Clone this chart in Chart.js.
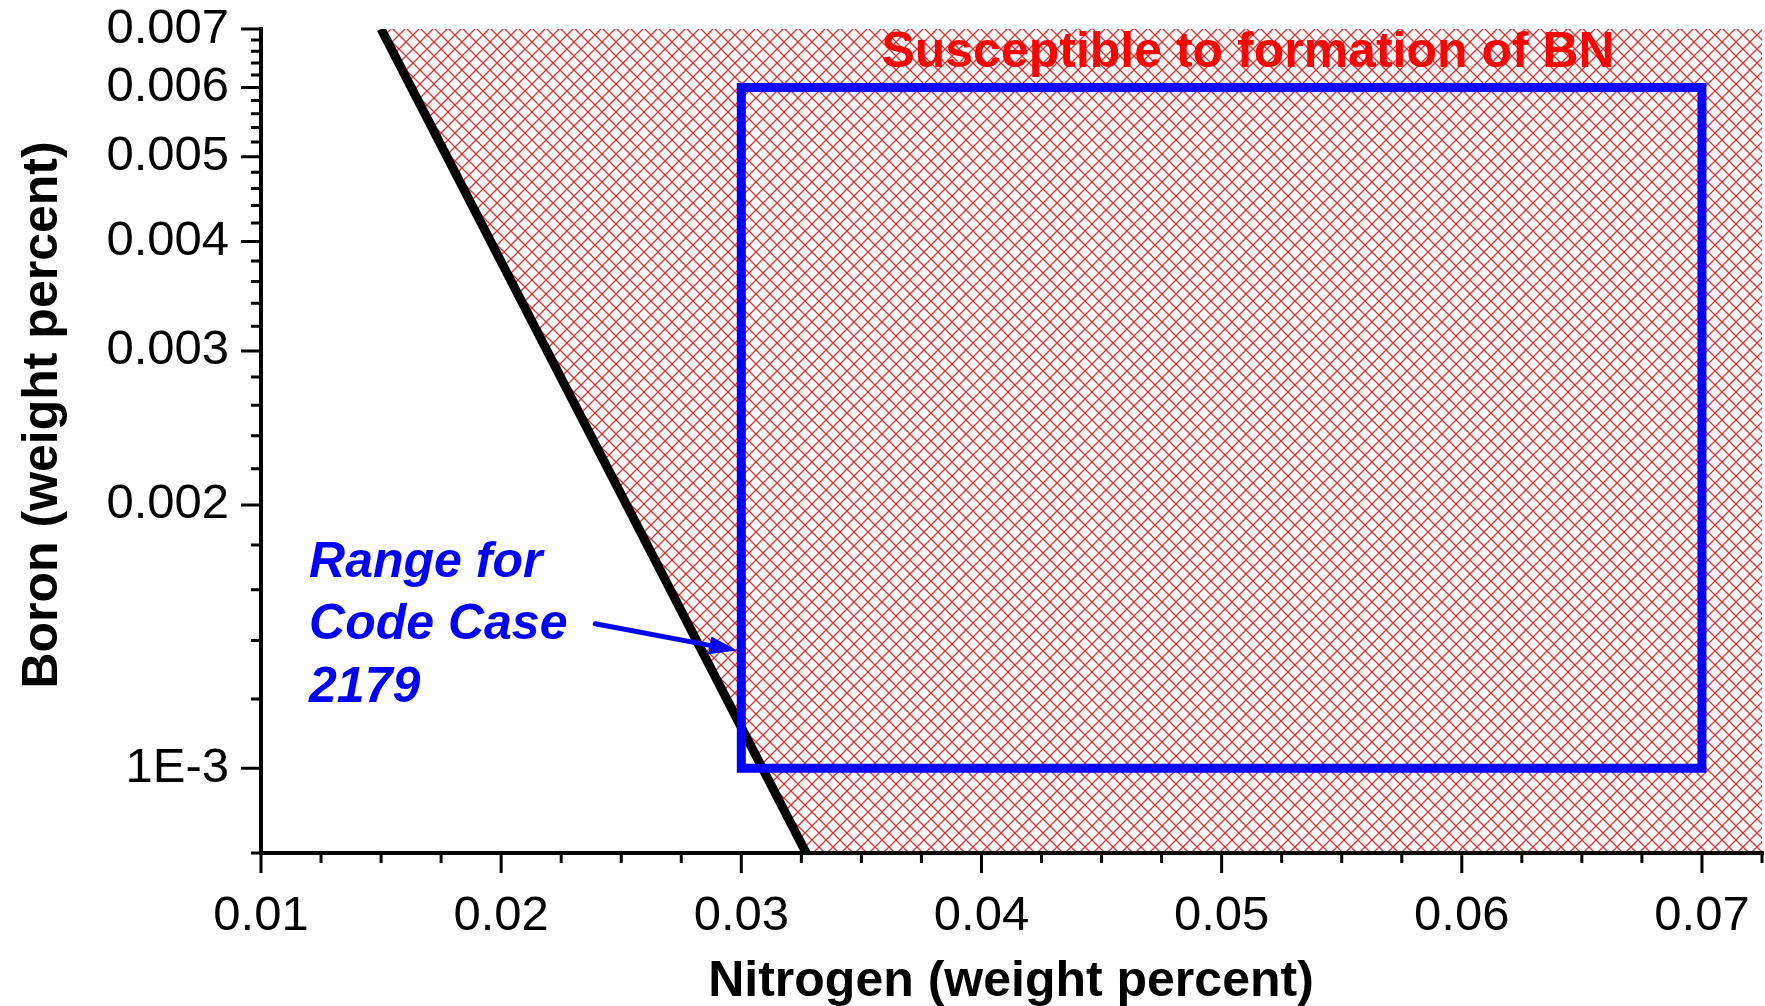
<!DOCTYPE html>
<html>
<head>
<meta charset="utf-8">
<title>Boron vs Nitrogen</title>
<script src="https://cdn.jsdelivr.net/npm/chart.js@4.4.0/dist/chart.umd.min.js"></script>
<style>
  html, body { margin: 0; padding: 0; background: #fff; }
  #wrap { width: 1765px; height: 1006px; position: relative; }
</style>
</head>
<body>
<div id="wrap"><canvas id="bnChart"></canvas></div>
<script>
// --------------------------
// Data
// --------------------------

// Boundary line: left of it is safe, right of it BN can form
const boundaryN = [0.0150, 0.0327];
const boundaryB = [0.007, 0.0008];

// Hatched BN region follows the boundary, then runs along the bottom to the right edge
const hatchN = [0.0150, 0.0327, 0.0725];
const hatchB = [0.007, 0.0008, 0.0008];

// Code Case 2179 composition window (closed outline)
const caseN = [0.03, 0.03, 0.07, 0.07, 0.03];
const caseB = [0.001, 0.006, 0.006, 0.001, 0.001];

// Arrow pointing from the label to the window
const arrowFrom = [0.02392, 0.001463];
const arrowTo = [0.02983, 0.001363];

// Axis ticks
const nTicks = [0.01, 0.02, 0.03, 0.04, 0.05, 0.06, 0.07];
const nTickLabels = ["0.01", "0.02", "0.03", "0.04", "0.05", "0.06", "0.07"];
const bTicks = [0.001, 0.002, 0.003, 0.004, 0.005, 0.006, 0.007];
const bTickLabels = ["1E-3", "0.002", "0.003", "0.004", "0.005", "0.006", "0.007"];

const xTitle = "Nitrogen (weight percent)";
const yTitle = "Boron (weight percent)";

const nMin = 0.01, nMax = 0.0725;
const bMin = 0.0008, bMax = 0.007;

// minor ticks: every 0.0025 on N, every 0.0002 on B
const nMinor = [];
for (let i = 0; i <= 25; i++) {
  const v = +(nMin + i * 0.0025).toFixed(5);
  if (!nTicks.includes(v)) nMinor.push(v);
}
const bMinor = [];
for (let i = 0; i <= 31; i++) {
  const v = +(bMin + i * 0.0002).toFixed(5);
  if (!bTicks.includes(v)) bMinor.push(v);
}

const FONT = "Arial, 'Liberation Sans', Helvetica, sans-serif";

// --------------------------
// Hatch pattern
// --------------------------
function makeHatch() {
  const s = 14;
  const c = document.createElement("canvas");
  c.width = s;
  c.height = s;
  const g = c.getContext("2d");
  g.strokeStyle = "rgba(214, 40, 40, 0.95)";
  g.lineWidth = 1.3;
  g.beginPath();
  g.moveTo(0, 0);
  g.lineTo(s, s);
  g.moveTo(s, 0);
  g.lineTo(0, s);
  g.stroke();
  return g.createPattern(c, "repeat");
}

// --------------------------
// Plugins
// --------------------------

// axis lines with major/minor ticks, plus axis titles
const axesPlugin = {
  id: "axesPlugin",
  afterDraw(chart) {
    const { ctx, chartArea: a, scales } = chart;
    const x = scales.x, y = scales.y;
    ctx.save();
    ctx.strokeStyle = "#000";

    ctx.lineWidth = 3;
    ctx.beginPath();
    nTicks.forEach((v) => {
      const px = x.getPixelForValue(v);
      ctx.moveTo(px, a.bottom); ctx.lineTo(px, a.bottom + 20);
    });
    bTicks.forEach((v) => {
      const py = y.getPixelForValue(v);
      ctx.moveTo(a.left, py); ctx.lineTo(a.left - 20, py);
    });
    nMinor.forEach((v) => {
      const px = x.getPixelForValue(v);
      ctx.moveTo(px, a.bottom); ctx.lineTo(px, a.bottom + 10);
    });
    bMinor.forEach((v) => {
      const py = y.getPixelForValue(v);
      ctx.moveTo(a.left, py); ctx.lineTo(a.left - 10, py);
    });
    ctx.stroke();

    ctx.lineWidth = 4;
    ctx.lineCap = "square";
    ctx.beginPath();
    ctx.moveTo(a.left, a.top);
    ctx.lineTo(a.left, a.bottom);
    ctx.lineTo(a.right, a.bottom);
    ctx.stroke();

    // axis titles
    ctx.fillStyle = "#000";
    ctx.font = "bold 50px " + FONT;
    ctx.textAlign = "center";
    ctx.textBaseline = "alphabetic";
    ctx.fillText(xTitle, 1011, 996);
    ctx.translate(57, 415);
    ctx.rotate(-Math.PI / 2);
    ctx.fillText(yTitle, 0, 0);
    ctx.restore();
  },
};

// text notes and the arrow
const notesPlugin = {
  id: "notesPlugin",
  afterDatasetsDraw(chart) {
    const { ctx, scales } = chart;
    const x = scales.x, y = scales.y;
    ctx.save();

    ctx.fillStyle = "#ff0000";
    ctx.font = "bold 50px " + FONT;
    ctx.textAlign = "center";
    ctx.textBaseline = "alphabetic";
    ctx.fillText("Susceptible to formation of BN", x.getPixelForValue(0.0511), y.getPixelForValue(0.00634));

    ctx.fillStyle = "#0000ff";
    ctx.font = "italic bold 50px " + FONT;
    ctx.textAlign = "left";
    const lx = x.getPixelForValue(0.0120);
    const ly = y.getPixelForValue(0.001655);
    ["Range for", "Code Case", "2179"].forEach((t, i) => ctx.fillText(t, lx, ly + i * 62.5));

    // arrow
    const x0 = x.getPixelForValue(arrowFrom[0]), y0 = y.getPixelForValue(arrowFrom[1]);
    const x1 = x.getPixelForValue(arrowTo[0]), y1 = y.getPixelForValue(arrowTo[1]);
    const ang = Math.atan2(y1 - y0, x1 - x0);
    const headLen = 28, headW = 9;
    const bx = x1 - headLen * Math.cos(ang), by = y1 - headLen * Math.sin(ang);
    ctx.strokeStyle = "#0000ff";
    ctx.lineWidth = 5;
    ctx.lineCap = "round";
    ctx.beginPath();
    ctx.moveTo(x0, y0);
    ctx.lineTo(bx, by);
    ctx.stroke();
    ctx.beginPath();
    ctx.moveTo(x1, y1);
    ctx.lineTo(bx + headW * Math.sin(ang), by - headW * Math.cos(ang));
    ctx.lineTo(bx - headW * Math.sin(ang), by + headW * Math.cos(ang));
    ctx.closePath();
    ctx.fill();
    ctx.restore();
  },
};

// --------------------------
// Chart
// --------------------------
const toPoints = (xs, ys) => xs.map((v, i) => ({ x: v, y: ys[i] }));

const bnChart = new Chart(document.getElementById("bnChart"), {
  type: "line",
  data: {
    datasets: [
      {
        label: "Code Case 2179",
        data: toPoints(caseN, caseB),
        borderColor: "#0000ff",
        borderWidth: 9,
        borderJoinStyle: "miter",
        borderCapStyle: "square",
        pointRadius: 0,
        fill: false,
        tension: 0,
        order: 1,
      },
      {
        label: "Boundary",
        data: toPoints(boundaryN, boundaryB),
        borderColor: "#000",
        borderWidth: 9,
        pointRadius: 0,
        fill: false,
        tension: 0,
        order: 2,
      },
      {
        label: "BN region",
        data: toPoints(hatchN, hatchB),
        borderWidth: 0,
        borderColor: "rgba(0,0,0,0)",
        backgroundColor: makeHatch(),
        pointRadius: 0,
        fill: "end",
        tension: 0,
        order: 3,
      },
    ],
  },
  options: {
    responsive: true,
    maintainAspectRatio: false,
    animation: false,
    layout: { padding: { top: 29, right: 3, bottom: 0, left: 0 } },
    plugins: {
      legend: { display: false },
      tooltip: { enabled: false },
    },
    scales: {
      x: {
        type: "linear",
        min: nMin,
        max: nMax,
        grid: { display: false, drawTicks: false },
        border: { display: false },
        afterBuildTicks: (scale) => {
          scale.ticks = nTicks.map((v) => ({ value: v }));
        },
        afterFit: (scale) => {
          scale.height = 153;
          scale.paddingLeft = 0;
          scale.paddingRight = 0;
        },
        ticks: {
          padding: 34,
          color: "#000",
          font: { family: FONT, size: 49 },
          maxRotation: 0,
          callback: (v, i) => nTickLabels[i],
        },
      },
      y: {
        type: "logarithmic",
        min: bMin,
        max: bMax,
        grid: { display: false, drawTicks: false },
        border: { display: false },
        afterBuildTicks: (scale) => {
          scale.ticks = bTicks.map((v) => ({ value: v }));
        },
        afterFit: (scale) => {
          scale.width = 261;
          scale.paddingTop = 0;
          scale.paddingBottom = 0;
        },
        ticks: {
          padding: 32,
          color: "#000",
          font: { family: FONT, size: 49 },
          callback: (v, i) => bTickLabels[i],
        },
      },
    },
  },
  plugins: [axesPlugin, notesPlugin],
});
</script>
</body>
</html>
